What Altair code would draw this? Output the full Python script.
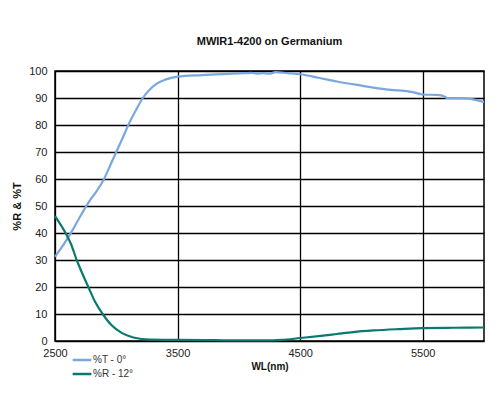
import altair as alt
import pandas as pd

wl_T = [2500, 2568, 2636, 2704, 2786, 2840, 2900, 2950, 3000, 3050, 3100, 3160, 3216, 3270,
        3330, 3400, 3500, 3700, 3950, 4050, 4100, 4150, 4200, 4250, 4300, 4400, 4500, 4650, 4800,
        5000, 5200, 5420, 5500, 5640, 5680, 5700, 5800, 5890, 5950, 6000]
T = [31.2, 35.6, 40.5, 46.0, 52.2, 55.5, 60.0, 65.0, 70.0, 75.0, 80.2, 85.5, 90.0, 93.0,
     95.3, 96.8, 97.9, 98.5, 99.0, 99.2, 99.3, 99.0, 99.2, 99.0, 99.6, 99.2, 98.8, 97.5, 96.1,
     94.6, 93.2, 92.2, 91.3, 91.1, 90.5, 90.0, 90.0, 89.7, 89.1, 88.5]

wl_R = [2500, 2554, 2595, 2628, 2677, 2723, 2772, 2827, 2889, 2962, 3044, 3139, 3276, 3500,
        3800, 4000, 4200, 4350, 4500, 4650, 4800, 4933, 5100, 5300, 5500, 5750, 6000]
R = [46.3, 42.5, 39.3, 36.2, 30.0, 25.0, 20.0, 14.5, 10.0, 5.8, 3.0, 1.3, 0.5, 0.4,
     0.3, 0.2, 0.2, 0.4, 1.1, 1.8, 2.6, 3.3, 3.9, 4.4, 4.8, 4.9, 5.0]

series_T = "%T - 0°"
series_R = "%R - 12°"

df = pd.concat([
    pd.DataFrame({"wl": wl_T, "val": T, "series": series_T}),
    pd.DataFrame({"wl": wl_R, "val": R, "series": series_R}),
])

font = "Liberation Sans"

chart = alt.Chart(df).mark_line(strokeWidth=2.2, interpolate="monotone").encode(
    x=alt.X("wl:Q", scale=alt.Scale(domain=[2500, 6000], nice=False),
            axis=alt.Axis(values=[2500, 3500, 4500, 5500], title="WL(nm)", format="d",
                          grid=True, gridColor="black", gridWidth=1.3, gridOpacity=1,
                          ticks=False, domain=False, labelFontSize=11, labelColor="#222",
                          labelFont=font, labelPadding=6, labelFlush=False,
                          titleFont=font, titleFontSize=10, titleFontWeight="bold",
                          titleColor="#111", titlePadding=3)),
    y=alt.Y("val:Q", scale=alt.Scale(domain=[0, 100], nice=False),
            axis=alt.Axis(values=list(range(0, 101, 10)), title="%R & %T",
                          grid=True, gridColor="black", gridWidth=1.3, gridOpacity=1,
                          ticks=False, domain=False, labelFontSize=11, labelColor="#222",
                          labelFont=font, labelPadding=8, labelFlush=False,
                          titleFont=font, titleFontSize=11, titleFontWeight="bold",
                          titleColor="#111", titlePadding=6)),
    color=alt.Color("series:N",
                    scale=alt.Scale(domain=[series_T, series_R], range=["#7BA7DF", "#087A6F"]),
                    legend=alt.Legend(title=None, orient="none", legendX=18, legendY=280,
                                      symbolType="M-1.25,0H1.25", symbolSize=225,
                                      symbolStrokeWidth=2.5,
                                      labelFont=font, labelFontSize=10, labelColor="#333",
                                      labelOffset=2, rowPadding=0)),
).properties(
    width=429, height=270,
    title=alt.TitleParams("MWIR1-4200 on Germanium", font=font, fontSize=11,
                          fontWeight="bold", color="#111", offset=18),
    autosize=alt.AutoSizeParams(type="none"),
    padding={"left": 47, "top": 63, "right": 8, "bottom": 50},
).configure_view(stroke="black", strokeWidth=1.5)

chart.save("out.html", embed_options={"renderer": "svg", "actions": False})
